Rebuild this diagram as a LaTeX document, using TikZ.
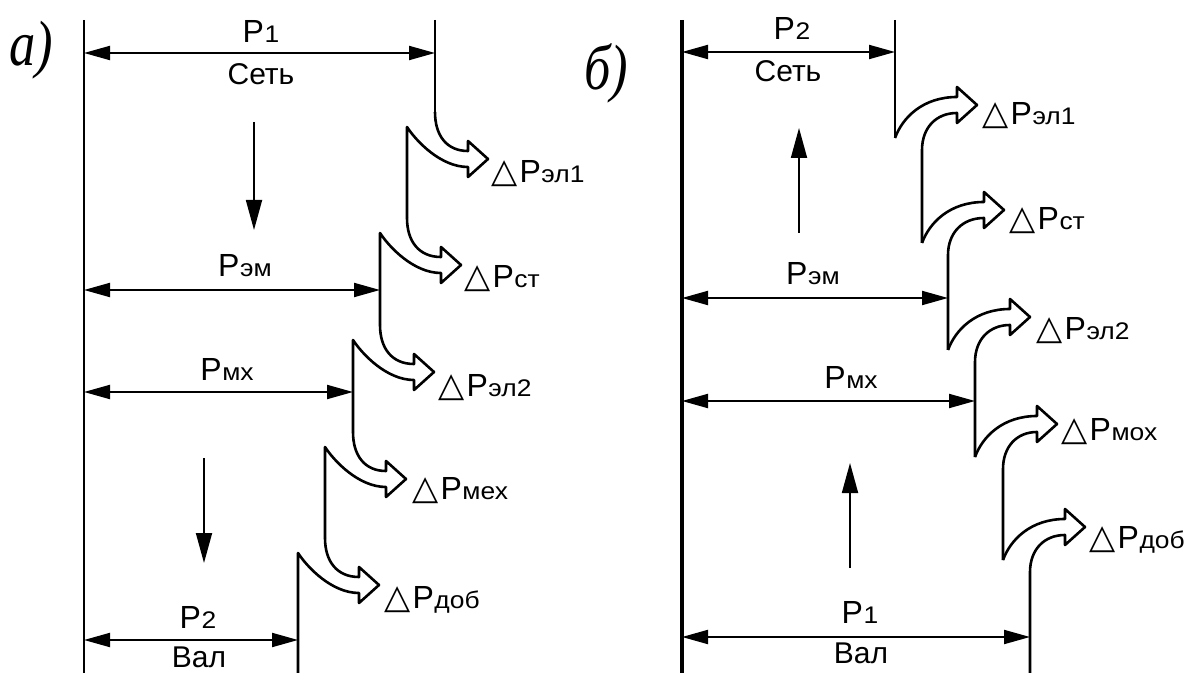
\documentclass[tikz,border=0pt]{standalone}
\usepackage{fontspec}
\setmainfont{Liberation Sans}
\newfontfamily\panelfont{Liberation Serif}
\newfontfamily\symfont{DejaVu Sans}
\usetikzlibrary{arrows.meta}
\newcommand{\sbs}[1]{\scalebox{1.1}[1]{\fontsize{12}{14}\selectfont #1}}
\newcommand{\lbl}[1]{{\fontsize{16}{19}\selectfont P}\kern0.3pt\sbs{#1}}
\newcommand{\dlbl}[1]{{\symfont\fontsize{17}{20}\selectfont △}\kern1pt{\fontsize{16}{19}\selectfont P}\kern0.3pt\sbs{#1}}
\begin{document}
\begin{tikzpicture}[x=0.5pt,y=-0.5pt,line join=round,
  txt/.style={font=\fontsize{15}{18}\selectfont,inner sep=0pt,anchor=base},
  ltxt/.style={font=\fontsize{15}{18}\selectfont,inner sep=0pt,anchor=base west},
  ptxt/.style={font={\panelfont\itshape\fontsize{32}{36}\selectfont},inner sep=0pt,anchor=base west},
  dimline/.style={line width=1pt,{Triangle[length=13pt,width=7pt]}-{Triangle[length=13pt,width=7pt]}},
  flow/.style={line width=0.9pt,-{Triangle[length=15pt,width=8pt]}},
  loss/.style={line width=1.3pt},
  axisa/.style={line width=1.1pt},
  axisb/.style={line width=1.6pt}]
\useasboundingbox (0,0) rectangle (1198,673);

% ---------------- panel a ----------------
\node[ptxt] (labA) at (9,66) {\scalebox{0.82}[1]{а)}};
\coordinate (aTop) at (84,20);
\coordinate (aBot) at (84,673);
\draw[axisa] (aTop) -- (aBot);

\coordinate (a1L) at (84,53);  \coordinate (a1R) at (435,53);
\coordinate (a2L) at (84,290); \coordinate (a2R) at (380,290);
\coordinate (a3L) at (84,392); \coordinate (a3R) at (353,392);
\coordinate (a4L) at (84,640); \coordinate (a4R) at (298,640);
\draw[dimline] (a1L) -- (a1R);
\draw[dimline] (a2L) -- (a2R);
\draw[dimline] (a3L) -- (a3R);
\draw[dimline] (a4L) -- (a4R);

\coordinate (af1s) at (254,122); \coordinate (af1e) at (254,230);
\coordinate (af2s) at (204,458); \coordinate (af2e) at (204,563);
\draw[flow] (af1s) -- (af1e);
\draw[flow] (af2s) -- (af2e);

\node[txt] (aP1) at (261,43) {\lbl{1}};
\node[txt] (aNet) at (261,85) {Сеть};
\node[txt] (aPem) at (245,277) {\lbl{эм}};
\node[txt] (aPmh) at (227,380) {\lbl{мх}};
\node[txt] (aP2) at (198,628) {\lbl{2}};
\node[txt] (aVal) at (199,667) {Вал};

\draw[loss] (435,20) -- (435,112);
\foreach \xp/\xi/\ti/\nb in {435/407/127/218, 407/380/233/325, 380/353/340/432, 353/325/447/538, 325/298/553/673} {
  \pgfmathsetmacro\tx{\xi+81}
  \pgfmathsetmacro\ty{\ti+32}
  \pgfmathsetmacro\hb{\tx-20}
  \pgfmathsetmacro\sy{\ti-15}
  \pgfmathsetmacro\oy{\ty-8}
  \pgfmathsetmacro\iy{\ty+8}
  \pgfmathsetmacro\ca{\sy+0.6*(\oy-\sy)}
  \pgfmathsetmacro\cb{\xp+0.35*(\hb-\xp)}
  \pgfmathsetmacro\cc{\hb-0.45*(\hb-\xi)}
  \pgfmathsetmacro\cdx{\xi+0.15*(\hb-\xi)}
  \pgfmathsetmacro\cdy{\ti+0.35*(\iy-\ti)}
  \draw[loss] (\xp,\sy) .. controls (\xp,\ca) and (\cb,\oy) .. (\hb,\oy)
     -- (\hb,\ty-18) -- (\tx,\ty) -- (\hb,\ty+18) -- (\hb,\iy)
     .. controls (\cc,\iy) and (\cdx,\cdy) .. (\xi,\ti) -- (\xi,\nb);
}

\node[ltxt] (aL1) at (491,183) {\dlbl{эл1}};
\node[ltxt] (aL2) at (464,288) {\dlbl{ст}};
\node[ltxt] (aL3) at (438,396) {\dlbl{эл2}};
\node[ltxt] (aL4) at (412,499) {\dlbl{мех}};
\node[ltxt] (aL5) at (384,608) {\dlbl{доб}};

% ---------------- panel b ----------------
\node[ptxt] (labB) at (584,90) {\scalebox{0.82}[1]{б)}};
\coordinate (bTop) at (682,20);
\coordinate (bBot) at (682,673);
\draw[axisb] (bTop) -- (bBot);

\coordinate (b1L) at (682,52);  \coordinate (b1R) at (895,52);
\coordinate (b2L) at (682,298); \coordinate (b2R) at (948,298);
\coordinate (b3L) at (682,401); \coordinate (b3R) at (975,401);
\coordinate (b4L) at (682,637); \coordinate (b4R) at (1030,637);
\draw[dimline] (b1L) -- (b1R);
\draw[dimline] (b2L) -- (b2R);
\draw[dimline] (b3L) -- (b3R);
\draw[dimline] (b4L) -- (b4R);

\coordinate (bf1s) at (799,233); \coordinate (bf1e) at (799,128);
\coordinate (bf2s) at (850,568); \coordinate (bf2e) at (850,463);
\draw[flow] (bf1s) -- (bf1e);
\draw[flow] (bf2s) -- (bf2e);

\node[txt] (bP2) at (792,40) {\lbl{2}};
\node[txt] (bNet) at (788,82) {Сеть};
\node[txt] (bPem) at (813,285) {\lbl{эм}};
\node[txt] (bPmh) at (851,388) {\lbl{мх}};
\node[txt] (bP1) at (860,623) {\lbl{1}};
\node[txt] (bVal) at (861,663) {Вал};

\draw[loss] (895,20) -- (895,138);
\foreach \xp/\bp/\xi/\nb in {895/138/922/243, 922/243/948/350, 948/350/975/457, 975/457/1003/560, 1003/560/1030/673} {
  \pgfmathsetmacro\tx{\xp+82}
  \pgfmathsetmacro\ty{\bp-33}
  \pgfmathsetmacro\hb{\tx-20}
  \pgfmathsetmacro\oy{\ty-8}
  \pgfmathsetmacro\iy{\ty+8}
  \pgfmathsetmacro\ey{\ty+45}
  \pgfmathsetmacro\cax{\xp+0.12*(\hb-\xp)}
  \pgfmathsetmacro\cay{\bp-0.5*(\bp-\oy)}
  \pgfmathsetmacro\cbx{\xp+0.45*(\hb-\xp)}
  \pgfmathsetmacro\ccx{\hb-0.6*(\hb-\xi)}
  \pgfmathsetmacro\cdy{\iy+0.4*(\ey-\iy)}
  \draw[loss] (\xp,\bp) .. controls (\cax,\cay) and (\cbx,\oy) .. (\hb,\oy)
     -- (\hb,\ty-18) -- (\tx,\ty) -- (\hb,\ty+18) -- (\hb,\iy)
     .. controls (\ccx,\iy) and (\xi,\cdy) .. (\xi,\ey) -- (\xi,\nb);
}

\node[ltxt] (bL1) at (982,125) {\dlbl{эл1}};
\node[ltxt] (bL2) at (1009,230) {\dlbl{ст}};
\node[ltxt] (bL3) at (1036,340) {\dlbl{эл2}};
\node[ltxt] (bL4) at (1061,440) {\dlbl{мох}};
\node[ltxt] (bL5) at (1089,548) {\dlbl{доб}};
\end{tikzpicture}
\end{document}
